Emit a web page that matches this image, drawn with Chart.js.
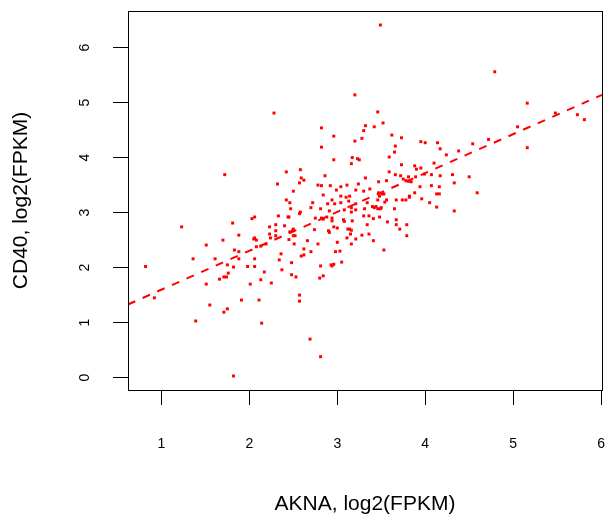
<!DOCTYPE html>
<html><head><meta charset="utf-8">
<script src="https://cdn.jsdelivr.net/npm/chart.js@4.4.1/dist/chart.umd.min.js"></script>
<style>html,body{margin:0;padding:0;background:#fff}canvas{display:block}</style>
</head><body>
<canvas id="c" width="610" height="517"></canvas>
<script>
// AKNA expression (x) and CD40 expression (y), log2(FPKM)
const akna = [
2.28,3.49,3.20,3.46,3.52,2.82,3.32,3.42,3.30,2.96,3.62,3.73,3.28,
4.79,5.16,5.48,5.73,5.81,5.05,4.72,
4.38,4.54,5.16,4.31,4.50,4.33,4.59,4.33,
1.72,2.42,2.32,2.42,1.23,1.81,2.03,2.06,2.33,2.44,2.30,2.40,2.23,2.30,2.23,2.30,2.24,1.88,1.70,2.05,2.06,2.08,2.19,2.13,2.08,1.51,1.83,1.88,2.36,1.36,1.61,1.88,2.06,2.34,1.75,0.82,1.82,1.98,2.06,2.45,
2.17,2.37,1.51,1.66,1.71,1.74,1.76,2.01,2.13,2.25,0.92,1.55,1.91,2.11,1.71,1.75,1.39,2.14,1.82,
2.48,2.53,2.80,2.84,2.57,2.57,2.69,2.81,
2.82,3.20,3.66,3.65,3.95,4.00,4.14,4.17,4.24,2.96,3.17,3.23,3.25,3.59,3.16,3.73,2.58,3.88,3.90,3.95,4.10,
3.59,3.66,3.72,3.81,3.89,3.99,4.07,4.17,2.86,2.59,2.62,2.57,3.32,3.47,3.56,3.75,3.78,3.81,3.84,
2.78,2.82,2.92,3.04,3.11,3.24,3.94,4.07,4.16,2.50,2.99,3.21,3.30,3.37,2.84,3.04,3.10,3.14,3.47,3.51,3.53,3.48,3.88,4.13,4.16,3.82,
2.94,3.13,3.46,3.56,3.54,3.67,3.74,3.78,3.82,3.96,4.05,2.46,2.72,2.89,2.97,3.04,3.21,3.34,3.31,3.40,3.42,3.44,3.46,3.49,3.50,3.65,4.13,
2.47,2.70,2.81,2.91,3.08,3.16,3.16,3.21,2.58,2.57,2.45,2.75,2.82,2.84,2.88,2.94,2.94,3.07,3.08,3.17,3.30,3.36,3.41,3.48,3.57,3.67,3.67,3.79,
2.50,2.49,2.46,2.50,2.52,2.96,2.74,2.90,2.91,3.00,3.12,3.14,3.16,3.34,3.15,3.36,3.28,3.21,3.11,3.41,3.79,3.71,
2.66,2.78,3.00,3.16,2.51,2.62,2.70,2.98,3.03,3.53,2.59,2.62,3.05,2.48,2.93,2.96,2.81,2.94
];
const cd40 = [
4.81,6.41,5.14,4.83,4.63,4.54,4.58,4.56,4.49,4.39,4.41,4.36,4.35,
5.56,4.99,4.81,4.78,4.69,4.56,4.33,
4.12,4.25,4.18,3.69,3.65,3.54,3.36,3.03,
3.69,3.74,3.52,3.23,2.74,2.81,2.89,2.92,2.94,2.92,2.78,2.76,2.74,2.67,2.61,2.58,2.54,2.59,2.50,2.52,2.54,2.50,2.43,2.39,2.38,2.41,2.32,2.29,2.25,2.16,2.16,2.16,2.16,2.14,2.05,2.02,2.01,2.02,2.02,2.51,
1.92,1.96,1.70,1.79,1.83,1.83,1.90,1.70,1.78,1.72,1.45,1.32,1.41,1.41,1.19,1.25,1.03,0.99,0.03,
1.87,1.83,1.81,1.85,1.50,1.39,0.70,0.38,
4.19,4.30,4.21,4.10,4.29,4.27,4.27,4.16,4.05,3.96,4.00,3.98,3.96,4.01,3.89,3.87,3.78,3.85,3.79,3.81,3.90,
3.74,3.69,3.67,3.65,3.65,3.70,3.69,3.67,3.67,3.63,3.59,3.54,3.63,3.56,3.58,3.61,3.58,3.57,3.56,
3.50,3.49,3.49,3.47,3.50,3.52,3.47,3.49,3.47,3.39,3.41,3.41,3.39,3.43,3.32,3.30,3.28,3.30,3.36,3.34,3.34,3.30,3.36,3.34,3.34,3.30,
3.23,3.21,3.23,3.23,3.19,3.23,3.23,3.23,3.28,3.25,3.18,3.18,3.18,3.16,3.16,3.18,3.16,3.18,3.07,3.11,3.09,3.11,3.07,3.07,3.09,3.07,3.10,
3.07,3.09,3.07,3.03,3.05,3.09,3.01,3.05,3.01,2.98,2.92,2.90,2.90,2.88,2.92,2.90,2.85,2.87,2.84,2.85,2.94,2.94,2.89,2.92,2.83,2.87,2.78,2.78,
2.70,2.67,2.65,2.58,2.58,2.74,2.69,2.67,2.64,2.72,2.70,2.70,2.68,2.78,2.61,2.61,2.59,2.52,2.54,2.49,2.58,2.70,
2.49,2.43,2.46,2.43,2.43,2.34,2.29,2.29,2.30,2.32,2.21,2.23,2.10,2.09,2.05,2.06,2.03,2.03
];
// dashed trend line end points
const fitX = [0.62, 6.01];
const fitY = [1.33, 5.14];
const xTicks = [1, 2, 3, 4, 5, 6];
const yTicks = [0, 1, 2, 3, 4, 5, 6];
const xTitle = 'AKNA, log2(FPKM)';
const yTitle = 'CD40, log2(FPKM)';

Chart.defaults.font.family = '"Liberation Sans", Arial, Helvetica, sans-serif';
Chart.defaults.color = '#000';

const bgPlugin = {
  id: 'bg',
  beforeDraw(chart) {
    const ctx = chart.ctx;
    ctx.save(); ctx.fillStyle = '#fff'; ctx.fillRect(0, 0, chart.width, chart.height); ctx.restore();
  },
  afterDatasetsDraw(chart) {
    const a = chart.chartArea, ctx = chart.ctx;
    ctx.save(); ctx.strokeStyle = '#000'; ctx.lineWidth = 1;
    ctx.strokeRect(Math.round(a.left) + 0.5, Math.round(a.top) + 0.5,
      Math.round(a.right) - Math.round(a.left), Math.round(a.bottom) - Math.round(a.top));
    ctx.restore();
  }
};

new Chart(document.getElementById('c'), {
  type: 'scatter',
  data: {
    datasets: [
      {
        data: akna.map((x, i) => ({x: x, y: cd40[i]})),
        pointStyle: 'rect', pointRadius: 2.1, pointBorderWidth: 0,
        backgroundColor: '#ff0000', borderColor: '#ff0000', pointHoverRadius: 2.1
      },
      {
        type: 'line',
        data: fitX.map((x, i) => ({x: x, y: fitY[i]})),
        borderColor: '#ff0000', borderWidth: 2, borderDash: [8, 8],
        pointRadius: 0, fill: false, showLine: true
      }
    ]
  },
  options: {
    responsive: false, animation: false,
    layout: {padding: {top: 11, right: 8, left: 0, bottom: 0}},
    plugins: {legend: {display: false}, tooltip: {enabled: false}},
    scales: {
      x: {
        type: 'linear', min: 0.62, max: 6.01,
        afterBuildTicks: s => { s.ticks = xTicks.map(v => ({value: v})); },
        afterFit: s => { s.height = 127; s.paddingLeft = 0; s.paddingRight = 0; },
        grid: {drawOnChartArea: false, drawTicks: true, tickLength: 15, color: '#000', lineWidth: 1},
        border: {display: false},
        ticks: {font: {size: 14}, padding: 31, color: '#000', maxRotation: 0},
        title: {display: true, text: xTitle, font: {size: 21}, color: '#000', padding: {top: 0, bottom: 0}}
      },
      y: {
        type: 'linear', min: -0.225, max: 6.665,
        afterBuildTicks: s => { s.ticks = yTicks.map(v => ({value: v})); },
        afterFit: s => { s.width = 128; s.paddingTop = 0; s.paddingBottom = 0; },
        grid: {drawOnChartArea: false, drawTicks: true, tickLength: 15, color: '#000', lineWidth: 1},
        border: {display: false},
        ticks: {font: {size: 14}, padding: 24, color: '#000', minRotation: 90, maxRotation: 90, crossAlign: 'center'},
        title: {display: true, text: yTitle, font: {size: 21}, color: '#000', padding: {top: 9, bottom: 0}}
      }
    }
  },
  plugins: [bgPlugin]
});
</script>
</body></html>
